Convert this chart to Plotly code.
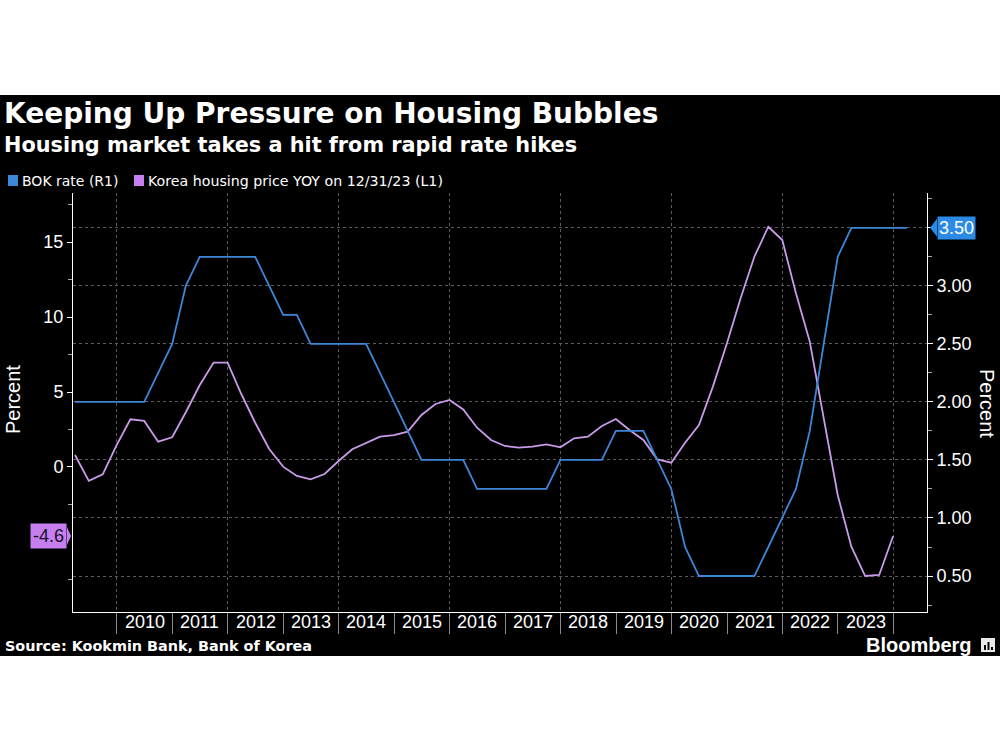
import plotly.graph_objects as go

# ---------------- data ----------------
bok_dates = [
    "2009-03-31", "2009-06-30", "2009-09-30", "2009-12-31",
    "2010-03-31", "2010-06-30", "2010-09-30", "2010-12-31",
    "2011-03-31", "2011-06-30", "2011-09-30", "2011-12-31",
    "2012-03-31", "2012-06-30", "2012-09-30", "2012-12-31",
    "2013-03-31", "2013-06-30", "2013-09-30", "2013-12-31",
    "2014-03-31", "2014-06-30", "2014-09-30", "2014-12-31",
    "2015-03-31", "2015-06-30", "2015-09-30", "2015-12-31",
    "2016-03-31", "2016-06-30", "2016-09-30", "2016-12-31",
    "2017-03-31", "2017-06-30", "2017-09-30", "2017-12-31",
    "2018-03-31", "2018-06-30", "2018-09-30", "2018-12-31",
    "2019-03-31", "2019-06-30", "2019-09-30", "2019-12-31",
    "2020-03-31", "2020-06-30", "2020-09-30", "2020-12-31",
    "2021-03-31", "2021-06-30", "2021-09-30", "2021-12-31",
    "2022-03-31", "2022-06-30", "2022-09-30", "2022-12-31",
    "2023-03-31", "2023-06-30", "2023-09-30", "2023-12-31",
    "2024-03-31",
]
bok_rate = [
    2.00, 2.00, 2.00, 2.00,
    2.00, 2.00, 2.25, 2.50,
    3.00, 3.25, 3.25, 3.25,
    3.25, 3.25, 3.00, 2.75,
    2.75, 2.50, 2.50, 2.50,
    2.50, 2.50, 2.25, 2.00,
    1.75, 1.50, 1.50, 1.50,
    1.50, 1.25, 1.25, 1.25,
    1.25, 1.25, 1.25, 1.50,
    1.50, 1.50, 1.50, 1.75,
    1.75, 1.75, 1.50, 1.25,
    0.75, 0.50, 0.50, 0.50,
    0.50, 0.50, 0.75, 1.00,
    1.25, 1.75, 2.50, 3.25,
    3.50, 3.50, 3.50, 3.50,
    3.50,
]
house_dates = bok_dates[:-1]
house_yoy = [
    0.8, -0.93, -0.49, 1.47,
    3.18, 3.07, 1.69, 1.98,
    3.65, 5.45, 6.96, 6.96,
    4.85, 2.95, 1.2, 0.02,
    -0.6, -0.82, -0.47, 0.4,
    1.18, 1.58, 2.02, 2.13,
    2.36, 3.47, 4.2, 4.47,
    3.84, 2.62, 1.8, 1.4,
    1.29, 1.36, 1.51, 1.31,
    1.91, 2.02, 2.73, 3.2,
    2.47, 1.8, 0.51, 0.29,
    1.62, 2.8, 5.36, 8.24,
    11.24, 14.02, 16.02, 15.13,
    11.58, 8.36, 3.13, -1.87,
    -5.31, -7.27, -7.2, -4.6,
]
year_labels = list(range(2010, 2024))
left_ticks = [0, 5, 10, 15]
left_minor = [-7.5, -2.5, 2.5, 7.5, 12.5, 17.5]
right_ticks = [0.5, 1.0, 1.5, 2.0, 2.5, 3.0, 3.5]
right_minor = [0.25, 0.75, 1.25, 1.75, 2.25, 2.75, 3.25, 3.75]

title = "Keeping Up Pressure on Housing Bubbles"
subtitle = "Housing market takes a hit from rapid rate hikes"
legend_bok = "BOK rate (R1)"
legend_house = "Korea housing price YOY on 12/31/23 (L1)"
source = "Source: Kookmin Bank, Bank of Korea"

# ---------------- styling ----------------
BLUE = "#3d87d8"
BLUE_TAG = "#2a8ae6"
PURPLE = "#c99be9"
PURPLE_TAG = "#c67ff0"
GRID = "#5c5c5c"
FONT = "Liberation Sans"
HEAD_FONT = "DejaVu Sans"

W, H = 1000, 750
L, R, T, B = 73, 73, 193, 138
PW, PH = W - L - R, H - T - B


def px(x):
    return (x - L) / PW


def py(y):
    return (H - B - y) / PH


fig = go.Figure()
fig.add_trace(go.Scatter(x=house_dates, y=house_yoy, mode="lines",
                         line=dict(color=PURPLE, width=1.8), yaxis="y",
                         showlegend=False, name=legend_house))
fig.add_trace(go.Scatter(x=bok_dates, y=bok_rate, mode="lines",
                         line=dict(color=BLUE, width=1.8), yaxis="y2",
                         showlegend=False, name=legend_bok))

shapes = [
    dict(type="rect", xref="paper", yref="paper", x0=px(0), x1=px(W),
         y0=py(656), y1=py(95), fillcolor="black", line=dict(width=0),
         layer="below"),
    # legend squares
    dict(type="rect", xref="paper", yref="paper", x0=px(8), x1=px(18),
         y0=py(186), y1=py(175), fillcolor=BLUE, line=dict(width=0)),
    dict(type="rect", xref="paper", yref="paper", x0=px(134), x1=px(144),
         y0=py(186), y1=py(175), fillcolor="#c77ef0", line=dict(width=0)),
    # tag arrows
    dict(type="path", xref="paper", yref="y2", xsizemode="pixel",
         ysizemode="pixel", xanchor=1, yanchor=bok_rate[-1],
         path="M 3 0 L 10 -9 L 10 9 Z", fillcolor=BLUE_TAG,
         line=dict(width=0)),
    dict(type="path", xref="paper", yref="y", xsizemode="pixel",
         ysizemode="pixel", xanchor=0, yanchor=house_yoy[-1],
         path="M -2 0 L -6 -9 L -6 9 Z", fillcolor=PURPLE_TAG,
         line=dict(width=0)),
    # bloomberg icon
    dict(type="rect", xref="paper", yref="paper", x0=px(981), x1=px(995),
         y0=py(652), y1=py(638), fillcolor="#e8e8e8", line=dict(width=0)),
]
for x0, ytop in ((984, 645), (987.5, 642), (991, 647)):
    shapes.append(dict(type="rect", xref="paper", yref="paper",
                       x0=px(x0), x1=px(x0 + 2), y0=py(650), y1=py(ytop),
                       fillcolor="black", line=dict(width=0)))

annotations = [
    dict(text=f"<b>{title}</b>", xref="paper", yref="paper", x=px(2),
         y=py(114), xanchor="left", yanchor="middle", showarrow=False,
         font=dict(family=HEAD_FONT, size=28, color="white")),
    dict(text=f"<b>{subtitle}</b>", xref="paper", yref="paper", x=px(2),
         y=py(145), xanchor="left", yanchor="middle", showarrow=False,
         font=dict(family=HEAD_FONT, size=20.8, color="white")),
    dict(text=legend_bok, xref="paper", yref="paper", x=px(20),
         y=py(181), xanchor="left", yanchor="middle", showarrow=False,
         font=dict(family=HEAD_FONT, size=14, color="white")),
    dict(text=legend_house, xref="paper", yref="paper", x=px(146),
         y=py(181), xanchor="left", yanchor="middle", showarrow=False,
         font=dict(family=HEAD_FONT, size=14.2, color="white")),
    dict(text=f"<b>{source}</b>", xref="paper", yref="paper", x=px(3),
         y=py(646), xanchor="left", yanchor="middle", showarrow=False,
         font=dict(family=HEAD_FONT, size=14.4, color="white")),
    dict(text="<b>Bloomberg</b>", xref="paper", yref="paper", x=px(974),
         y=py(645), xanchor="right", yanchor="middle", showarrow=False,
         font=dict(family=FONT, size=20, color="white")),
    dict(text="Percent", xref="paper", yref="paper", x=px(13), y=py(400),
         xanchor="center", yanchor="middle", textangle=-90, showarrow=False,
         font=dict(family=FONT, size=20, color="white")),
    dict(text="Percent", xref="paper", yref="paper", x=px(987), y=py(403),
         xanchor="center", yanchor="middle", textangle=90, showarrow=False,
         font=dict(family=FONT, size=20, color="white")),
    dict(text=f"{bok_rate[-1]:.2f}", xref="paper", yref="y2", x=1,
         y=bok_rate[-1], xanchor="left", yanchor="middle", xshift=10,
         showarrow=False, bgcolor=BLUE_TAG, borderpad=1,
         font=dict(family=FONT, size=18, color="white")),
    dict(text=f"{house_yoy[-1]:.1f}", xref="paper", yref="y", x=0,
         y=house_yoy[-1], xanchor="right", yanchor="middle", xshift=-6,
         showarrow=False, bgcolor=PURPLE_TAG, borderpad=2,
         font=dict(family=FONT, size=18, color="#201028")),
]
for yr in year_labels:
    annotations.append(dict(text=str(yr), xref="x", yref="paper",
                            x=f"{yr}-07-02", y=py(622), xanchor="center",
                            yanchor="middle", showarrow=False,
                            font=dict(family=FONT, size=18, color="white")))

fig.update_layout(
    width=W, height=H,
    margin=dict(l=L, r=R, t=T, b=B),
    paper_bgcolor="white", plot_bgcolor="black",
    font=dict(family=FONT, color="white"),
    showlegend=False,
    shapes=shapes, annotations=annotations,
    xaxis=dict(
        type="date", range=["2009-03-18", "2024-08-10"],
        tick0="2010-01-01", dtick="M24", showgrid=True, griddash="dot",
        gridcolor=GRID, gridwidth=1, ticks="outside", ticklen=21,
        tickcolor="#8a8a8a", showticklabels=False, showline=True,
        linecolor="white", linewidth=1, zeroline=False,
        minor=dict(tick0="2010-01-01", dtick="M12", ticks="outside",
                   ticklen=21, tickcolor="#8a8a8a", showgrid=False),
    ),
    yaxis=dict(
        range=[-9.67, 18.27], tickvals=left_ticks, ticks="outside",
        ticklen=5, tickcolor="white", showgrid=False, zeroline=False,
        showline=True, linecolor="white", linewidth=1,
        tickfont=dict(family=FONT, size=18, color="white"),
        minor=dict(tickvals=left_minor, ticks="outside", ticklen=4,
                   tickcolor="#aaaaaa"),
    ),
    yaxis2=dict(
        range=[0.19, 3.80], overlaying="y", side="right",
        tickvals=right_ticks,
        ticktext=[f"{v:.2f}" if v < 3.5 else "" for v in right_ticks],
        ticks="outside", ticklen=5, tickcolor="white", showgrid=True,
        griddash="dot", gridcolor=GRID, gridwidth=1, zeroline=False,
        showline=True, linecolor="white", linewidth=1,
        tickfont=dict(family=FONT, size=18, color="white"),
        minor=dict(tickvals=right_minor, ticks="outside", ticklen=4,
                   tickcolor="#aaaaaa"),
    ),
)

fig.write_html("out.html", config={"displayModeBar": False},
               post_script="document.body.style.margin='0';")
